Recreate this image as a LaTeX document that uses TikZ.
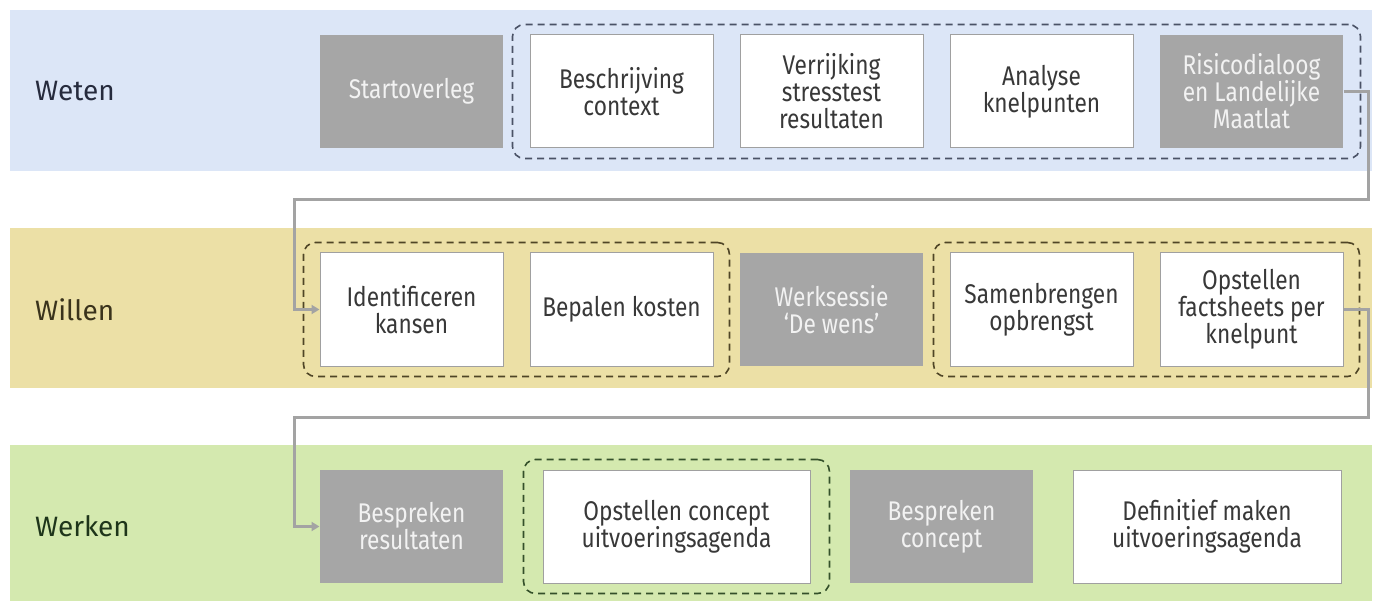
\documentclass[tikz,border=0pt]{standalone}
\usepackage{fontspec}
\setmainfont[FakeStretch=0.84]{Fira Sans}
\newfontfamily\lblfont{Fira Sans}
\usetikzlibrary{arrows.meta,fit}
\definecolor{wetenbg}{HTML}{DCE6F7}
\definecolor{willenbg}{HTML}{ECE0A6}
\definecolor{werkenbg}{HTML}{D4E9AF}
\definecolor{wetentxt}{HTML}{262B3D}
\definecolor{willentxt}{HTML}{3A331C}
\definecolor{werkentxt}{HTML}{1E351A}
\definecolor{wetendash}{HTML}{4A5266}
\definecolor{willendash}{HTML}{4F4526}
\definecolor{werkendash}{HTML}{34502A}
\definecolor{grayfill}{HTML}{A6A6A6}
\definecolor{boxline}{HTML}{A0A0A0}
\definecolor{txt}{HTML}{383838}
\definecolor{graytxt}{HTML}{F2F2F2}
\definecolor{connc}{HTML}{A3A3A3}
\begin{document}
\begin{tikzpicture}[x=1pt,y=-1pt,
  box/.style={draw=boxline, line width=1pt, fill=white, text=txt, align=center,
    font=\fontsize{27}{27}\selectfont, inner sep=0pt, minimum height=113pt},
  graybox/.style={box, draw=none, fill=grayfill, text=graytxt},
  dashbox/.style={draw, dash pattern=on 7pt off 5pt, line width=1.6pt, rounded corners=12pt, inner xsep=16pt, inner ysep=10pt},
  lanelabel/.style={anchor=west, font=\lblfont\fontsize{28}{30}\selectfont, inner sep=0pt},
  conn/.style={draw=connc, line width=3pt, -{Triangle[length=8pt,width=9pt]}}]
\useasboundingbox (0,0) rectangle (1378,601);
\fill[white] (0,0) rectangle (1378,601);
% lanes
\fill[wetenbg] (10,10) rectangle (1372,171);
\fill[willenbg] (10,228) rectangle (1372,388);
\fill[werkenbg] (10,445) rectangle (1372,601);
\node[lanelabel, text=wetentxt] (weten) at (35,91.5) {Weten};
\node[lanelabel, text=willentxt] (willen) at (35,309.5) {Willen};
\node[lanelabel, text=werkentxt] (werken) at (35,526.5) {Werken};
% row 1
\node[graybox, minimum width=183pt] (start) at (411.5,91.5) {Startoverleg};
\node[box, minimum width=183pt] (besch) at (621.5,91.5) {Beschrijving\\context};
\node[box, minimum width=183pt] (verr) at (831.5,91.5) {Verrijking\\stresstest\\resultaten};
\node[box, minimum width=183pt] (anal) at (1041.5,91.5) {Analyse\\knelpunten};
\node[graybox, minimum width=183pt] (risk) at (1251.5,91.5) {Risicodialoog\\en Landelijke\\Maatlat};
\node[dashbox, draw=wetendash, fit=(besch)(risk), inner xsep=17pt] (g1) {};
% row 2
\node[box, minimum width=183pt] (ident) at (411.5,309.5) {Identificeren\\kansen};
\node[box, minimum width=183pt] (bepal) at (621.5,309.5) {Bepalen kosten};
\node[graybox, minimum width=183pt] (werks) at (831.5,309.5) {Werksessie\\`De wens'};
\node[box, minimum width=183pt] (samen) at (1041.5,309.5) {Samenbrengen\\opbrengst};
\node[box, minimum width=183pt] (facts) at (1251.5,309.5) {Opstellen\\factsheets per\\knelpunt};
\node[dashbox, draw=willendash, fit=(ident)(bepal)] (g2) {};
\node[dashbox, draw=willendash, fit=(samen)(facts)] (g3) {};
% row 3
\node[graybox, minimum width=183pt] (bespr) at (411.5,526.5) {Bespreken\\resultaten};
\node[box, minimum width=267pt] (conc) at (676.5,526.5) {Opstellen concept\\uitvoeringsagenda};
\node[graybox, minimum width=183pt] (besprc) at (941.5,526.5) {Bespreken\\concept};
\node[box, minimum width=268pt] (defin) at (1207,526.5) {Definitief maken\\uitvoeringsagenda};
\node[dashbox, draw=werkendash, fit=(conc), inner xsep=19pt] (g4) {};
% connectors
\coordinate (k1) at (1368,200);
\coordinate (k2) at (294,200);
\coordinate (k3) at (1368,417);
\coordinate (k4) at (294,417);
\draw[conn] (risk.east) -| (k1) -- (k2) |- (ident.west);
\draw[conn] (facts.east) -| (k3) -- (k4) |- (bespr.west);
\end{tikzpicture}
\end{document}
